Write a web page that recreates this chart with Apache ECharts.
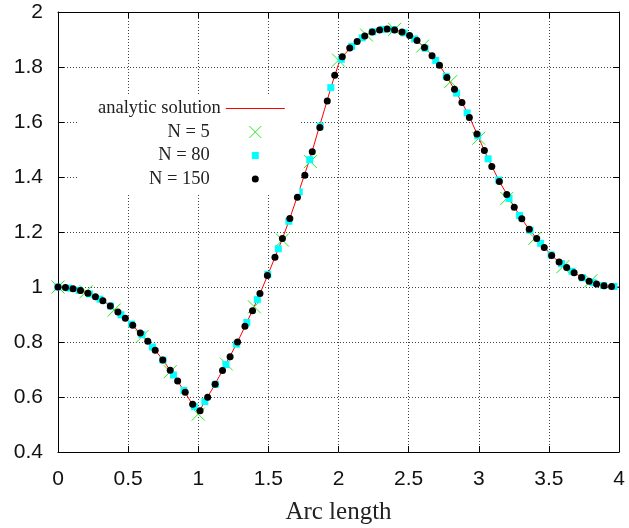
<!DOCTYPE html>
<html>
<head>
<meta charset="utf-8">
<script src="https://cdn.jsdelivr.net/npm/echarts@6/dist/echarts.min.js"></script>
<style>
html,body{margin:0;padding:0;background:#fff;}
#chart{width:629px;height:528px;}
</style>
</head>
<body>
<div id="chart"></div>
<script>
// ---- data ----
const analyticX = [0,0.05,0.1,0.15,0.2,0.25,0.3,0.35,0.4,0.45,0.5,0.55,0.6,0.65,0.7,0.75,0.8,0.85,0.9,0.95,1.0,1.05,1.1,1.15,1.2,1.25,1.3,1.35,1.4,1.45,1.5,1.55,1.6,1.65,1.7,1.75,1.8,1.85,1.9,1.95,2.0,2.05,2.1,2.15,2.2,2.25,2.3,2.35,2.4,2.45,2.5,2.55,2.6,2.65,2.7,2.75,2.8,2.85,2.9,2.95,3.0,3.05,3.1,3.15,3.2,3.25,3.3,3.35,3.4,3.45,3.5,3.55,3.6,3.65,3.7,3.75,3.8,3.85,3.9,3.95,4.0];
const analyticY = [1.000,0.998,0.994,0.988,0.980,0.969,0.956,0.940,0.920,0.898,0.876,0.851,0.825,0.797,0.766,0.733,0.697,0.660,0.621,0.580,0.542,0.586,0.629,0.675,0.723,0.771,0.821,0.875,0.930,0.988,1.049,1.112,1.176,1.245,1.320,1.397,1.472,1.560,1.645,1.732,1.810,1.850,1.878,1.899,1.917,1.929,1.935,1.938,1.935,1.928,1.917,1.899,1.878,1.852,1.821,1.783,1.741,1.697,1.652,1.600,1.542,1.485,1.432,1.381,1.338,1.294,1.253,1.216,1.184,1.154,1.126,1.101,1.081,1.063,1.046,1.031,1.019,1.010,1.004,1.002,1.000];

const n5X = [0,0.2,0.4,0.6,0.8,1.0,1.2,1.4,1.6,1.8,2.0,2.2,2.4,2.6,2.8,3.0,3.2,3.4,3.6,3.8];
const n5Y = [1.000,0.983,0.916,0.820,0.692,0.538,0.720,0.928,1.171,1.456,1.825,1.916,1.937,1.876,1.747,1.541,1.322,1.177,1.074,1.023];

const n80X = [0,0.075,0.150,0.224,0.299,0.374,0.449,0.524,0.598,0.673,0.748,0.823,0.898,0.972,1.047,1.122,1.197,1.272,1.346,1.421,1.496,1.571,1.646,1.720,1.795,1.870,1.945,2.020,2.094,2.169,2.244,2.319,2.394,2.468,2.543,2.618,2.693,2.768,2.842,2.917,2.992,3.067,3.142,3.216,3.291,3.366,3.441,3.516,3.590,3.665,3.740,3.815,3.890,3.964];
const n80Y = [1.000,0.996,0.988,0.975,0.956,0.931,0.899,0.865,0.827,0.782,0.734,0.680,0.624,0.565,0.583,0.646,0.718,0.792,0.871,0.954,1.046,1.139,1.239,1.346,1.463,1.585,1.725,1.828,1.875,1.906,1.928,1.937,1.936,1.924,1.902,1.868,1.824,1.766,1.705,1.633,1.550,1.466,1.389,1.322,1.260,1.206,1.159,1.117,1.085,1.057,1.033,1.016,1.005,1.002];

const n150X = [0,0.053,0.107,0.160,0.213,0.267,0.320,0.373,0.427,0.480,0.533,0.587,0.640,0.693,0.747,0.800,0.853,0.907,0.960,1.013,1.067,1.120,1.173,1.227,1.280,1.333,1.387,1.440,1.493,1.547,1.600,1.653,1.707,1.760,1.813,1.867,1.920,1.973,2.027,2.080,2.133,2.187,2.240,2.293,2.347,2.400,2.453,2.507,2.560,2.613,2.667,2.720,2.773,2.827,2.880,2.933,2.987,3.040,3.093,3.147,3.200,3.253,3.307,3.360,3.413,3.467,3.520,3.573,3.627,3.680,3.733,3.787,3.840,3.893,3.947];
const n150Y = [1.000,0.998,0.994,0.987,0.977,0.965,0.950,0.931,0.909,0.886,0.861,0.833,0.803,0.770,0.735,0.697,0.658,0.617,0.574,0.550,0.599,0.646,0.696,0.746,0.800,0.857,0.914,0.976,1.042,1.108,1.176,1.249,1.326,1.406,1.492,1.580,1.676,1.770,1.837,1.869,1.893,1.913,1.927,1.935,1.938,1.935,1.927,1.915,1.896,1.871,1.841,1.806,1.762,1.719,1.671,1.616,1.556,1.496,1.438,1.384,1.336,1.290,1.248,1.210,1.176,1.144,1.115,1.091,1.071,1.052,1.035,1.021,1.011,1.005,1.002];

const seriesNames = ['analytic solution', 'N = 5', 'N = 80', 'N = 150'];
const xAxisTitle = 'Arc length';

// ---- chart ----
const pairs = (xs, ys) => xs.map((x, i) => [x, ys[i]]);
const crossPath = 'path://M0,0L10,10M10,0L0,10';
const lineIcon = 'path://M0,0M59,12M0,6L59,6';
const sqIcon = 'path://M0,0M12,12M2.5,2.5L9.5,2.5L9.5,9.5L2.5,9.5Z';
const dotIcon = 'path://M0,0M12,12M9.5,6A3.5,3.5,0,1,1,2.5,6A3.5,3.5,0,1,1,9.5,6Z';

const gridDash = {color: '#444', width: 1, type: [1, 2]};
const tickStyle = {inside: true, length: 6, lineStyle: {color: '#000', width: 1}};

const chart = echarts.init(document.getElementById('chart'), null, {renderer: 'canvas'});
chart.setOption({
  animation: false,
  backgroundColor: '#fff',
  grid: {left: 58, right: 10, top: 12, bottom: 76, containLabel: false, outerBoundsMode: 'none'},
  xAxis: [{
    type: 'value', min: 0, max: 4, interval: 0.5, position: 'bottom',
    name: xAxisTitle, nameLocation: 'middle', nameGap: 48,
    nameTextStyle: {fontFamily: 'Liberation Serif', fontSize: 25, color: '#222'},
    axisLine: {show: true, onZero: false, lineStyle: {color: '#000', width: 1}},
    axisTick: tickStyle,
    axisLabel: {fontFamily: 'Liberation Sans', fontSize: 21, color: '#111', margin: 17},
    splitLine: {show: true, lineStyle: gridDash}
  }, {
    type: 'value', min: 0, max: 4, interval: 0.5, position: 'top',
    axisLine: {show: true, onZero: false, lineStyle: {color: '#000', width: 1}},
    axisTick: tickStyle, axisLabel: {show: false}, splitLine: {show: false}
  }],
  yAxis: [{
    type: 'value', min: 0.4, max: 2, interval: 0.2, position: 'left',
    axisLine: {show: true, onZero: false, lineStyle: {color: '#000', width: 1}},
    axisTick: tickStyle,
    axisLabel: {fontFamily: 'Liberation Sans', fontSize: 21, color: '#111', margin: 15},
    splitLine: {show: true, lineStyle: gridDash}
  }, {
    type: 'value', min: 0.4, max: 2, interval: 0.2, position: 'right',
    axisLine: {show: true, onZero: false, lineStyle: {color: '#000', width: 1}},
    axisTick: tickStyle, axisLabel: {show: false}, splitLine: {show: false}
  }],
  legend: {
    orient: 'vertical', left: 77, top: 95, align: 'right',
    padding: [4, 14, 6, 21], backgroundColor: '#fff',
    itemWidth: 59, itemHeight: 12, itemGap: 4.5,
    selectedMode: false,
    textStyle: {fontFamily: 'Liberation Serif', fontSize: 18.5, color: '#222'},
    data: [
      {name: seriesNames[0], icon: lineIcon, itemStyle: {color: 'rgba(0,0,0,0)', borderColor: '#ff0000', borderWidth: 1}},
      {name: seriesNames[1], icon: crossPath, itemStyle: {borderWidth: 1, opacity: 1}, textStyle: {padding: [0, 11, 0, 0]}},
      {name: seriesNames[2], icon: sqIcon, itemStyle: {borderWidth: 0, opacity: 1}, textStyle: {padding: [0, 11, 0, 0]}},
      {name: seriesNames[3], icon: dotIcon, itemStyle: {borderWidth: 0, opacity: 1}, textStyle: {padding: [0, 11, 0, 0]}}
    ]
  },
  series: [{
    name: seriesNames[0], type: 'line', data: pairs(analyticX, analyticY),
    symbol: 'none', showSymbol: false, z: 1,
    lineStyle: {color: '#ff0000', width: 1}, itemStyle: {color: '#ff0000'}
  }, {
    name: seriesNames[1], type: 'scatter', data: pairs(n5X, n5Y), z: 2,
    symbol: crossPath, symbolSize: 13,
    itemStyle: {color: 'rgba(0,0,0,0)', borderColor: '#22ee22', borderWidth: 1, opacity: 1}
  }, {
    name: seriesNames[2], type: 'scatter', data: pairs(n80X, n80Y), z: 3,
    symbol: 'rect', symbolSize: 7,
    itemStyle: {color: '#00ffff', opacity: 1}
  }, {
    name: seriesNames[3], type: 'scatter', data: pairs(n150X, n150Y), z: 4,
    symbol: 'circle', symbolSize: 7,
    itemStyle: {color: '#000', opacity: 1}
  }]
});
</script>
</body>
</html>
